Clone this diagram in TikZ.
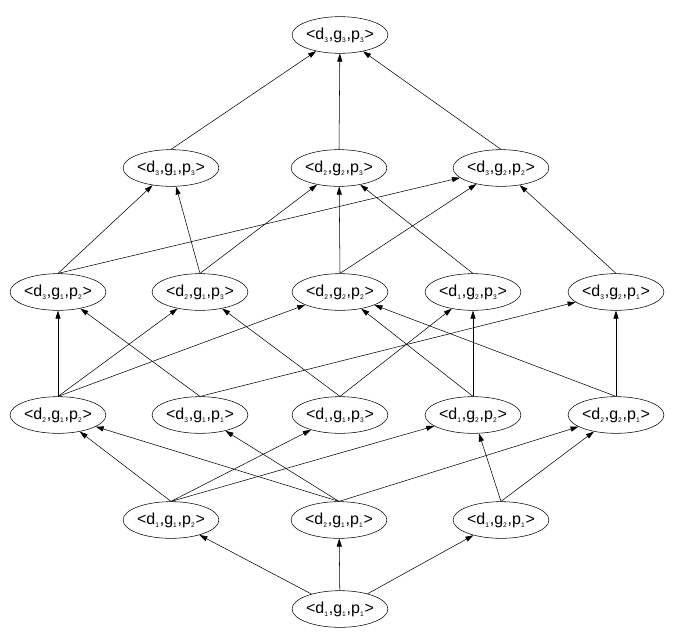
\documentclass[tikz,border=0pt]{standalone}
\usepackage{fontspec}
\setmainfont{Liberation Sans}
\usetikzlibrary{shapes.geometric,arrows.meta}
\newcommand{\lo}[1]{\raisebox{-2.2pt}{\fontsize{5}{5}\selectfont #1}\kern0.6pt}
\begin{document}
\begin{tikzpicture}[x=0.75pt, y=-0.75pt,
		every node/.style = {shape=ellipse, draw, thin, inner sep=0pt, minimum width=65pt, minimum height=27.5pt, font=\fontsize{12}{12}\selectfont}]
			\tikzset{ edge/.style = {thin, -{Triangle[length=6pt, width=3.8pt]}} }
			\useasboundingbox (0,0) rectangle (674,639);
			% top
			\node (n323) at (340,35) {<d\lo3,g\lo3,p\lo3>};
			% level 4
			\node (n313) at (171,168) {<d\lo3,g\lo1,p\lo3>};
			\node (n223) at (339,168) {<d\lo2,g\lo2,p\lo3>};
			\node (n322) at (501,168) {<d\lo3,g\lo2,p\lo2>};
			% level 3
			\node (n312) at (58,292) {<d\lo3,g\lo1,p\lo2>};
			\node (n213) at (200,292) {<d\lo2,g\lo1,p\lo3>};
			\node (n222) at (340,292) {<d\lo2,g\lo2,p\lo2>};
			\node (n123) at (473,292) {<d\lo1,g\lo2,p\lo3>};
			\node (n321) at (616,292) {<d\lo3,g\lo2,p\lo1>};
			% level 2
			\node (n212) at (58,415) {<d\lo2,g\lo1,p\lo2>};
			\node (n311) at (200,415) {<d\lo3,g\lo1,p\lo1>};
			\node (n113) at (340,415) {<d\lo1,g\lo1,p\lo3>};
			\node (n122) at (473,415) {<d\lo1,g\lo2,p\lo2>};
			\node (n221) at (616,415) {<d\lo2,g\lo2,p\lo1>};
			% level 1
			\node (n112) at (171,520) {<d\lo1,g\lo1,p\lo2>};
			\node (n211) at (339,520) {<d\lo2,g\lo1,p\lo1>};
			\node (n121) at (501,520) {<d\lo1,g\lo2,p\lo1>};
			% bottom
			\node (n111) at (340,609) {<d\lo1,g\lo1,p\lo1>};
			% edges, lower -> upper
			\foreach \b in {n112, n211, n121}
				\draw[edge] (n111) -- (\b);
			\foreach \a/\b in {n112/n212, n112/n113, n112/n122, n211/n212, n211/n311, n211/n221, n121/n122, n121/n221,
				n212/n312, n212/n213, n212/n222, n311/n312, n311/n321, n113/n213, n113/n123,
				n122/n222, n122/n123, n221/n222, n221/n321,
				n312/n313, n312/n322, n213/n313, n213/n223, n222/n223, n222/n322, n123/n223, n321/n322,
				n313/n323, n223/n323, n322/n323}
				\draw[edge] (\a.north) -- (\b);
		\end{tikzpicture}
\end{document}
